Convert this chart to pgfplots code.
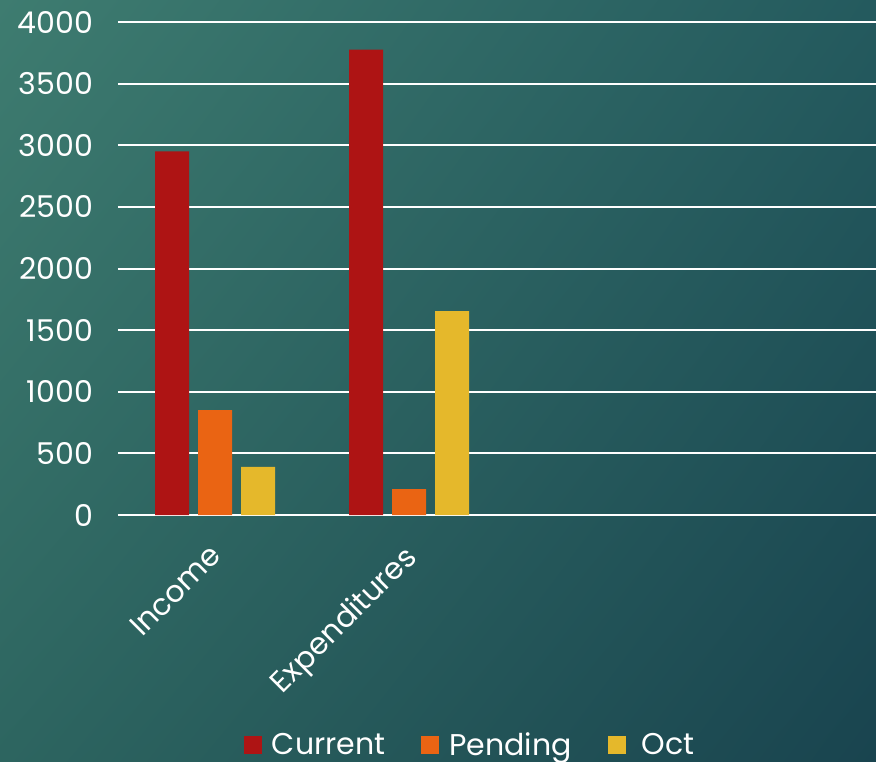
\documentclass[border=0pt]{standalone}
\usepackage{fontspec}
\setmainfont{Poppins}
\usepackage{pgfplots}
\pgfplotsset{compat=1.18}
\usetikzlibrary{shadings}
\definecolor{cred}{HTML}{AE1414}
\definecolor{corange}{HTML}{EA6413}
\definecolor{cyellow}{HTML}{E5B82B}
\definecolor{bgUL}{HTML}{3E7C70}
\definecolor{bgUR}{HTML}{245A5E}
\definecolor{bgLL}{HTML}{2D6560}
\definecolor{bgLR}{HTML}{19444F}
\begin{document}
\begin{tikzpicture}
\shade[upper left=bgUL, upper right=bgUR, lower left=bgLL, lower right=bgLR] (-59pt,-123pt) rectangle (379pt,257.5pt);
\path[use as bounding box] (-59pt,-123pt) rectangle (379pt,257.5pt);
\begin{axis}[
  at={(0,0)}, anchor=south west,
  scale only axis, width=379pt, height=246.5pt,
  ybar=4.5pt, bar width=17pt,
  xmin=-0.5, xmax=3.407,
  ymin=0, ymax=4000,
  ytick={0,500,...,4000},
  xtick={0,1},
  xticklabels={Income,Expenditures},
  axis line style={draw=none},
  major tick length=0pt,
  ymajorgrids, grid style={white, line width=1pt},
  font=\fontsize{15}{18}\selectfont,
  tick label style={white},
  /pgf/number format/assume math mode=true,
  /pgf/number format/1000 sep={},
  yticklabel style={xshift=-9pt},
  xticklabel style={rotate=45, anchor=north east, yshift=-3.8pt, xshift=-8.8pt},
  legend style={at={(0.466,-0.467)}, anchor=center, draw=none, fill=none,
    text=white, legend columns=3, /tikz/every even column/.append style={column sep=16pt}},
  legend image code/.code={\fill[#1] (0pt,-4.5pt) rectangle (9pt,4.5pt);},
  legend cell align=left,
]
\addplot[fill=cred, draw=none] coordinates {(0,2950) (1,3775)};
\addlegendentry{\hspace{3pt}Current}
\addplot[fill=corange, draw=none] coordinates {(0,850) (1,210)};
\addlegendentry{\hspace{3pt}Pending}
\addplot[fill=cyellow, draw=none] coordinates {(0,390) (1,1655)};
\addlegendentry{\hspace{6pt}Oct}
\end{axis}
\end{tikzpicture}
\end{document}
